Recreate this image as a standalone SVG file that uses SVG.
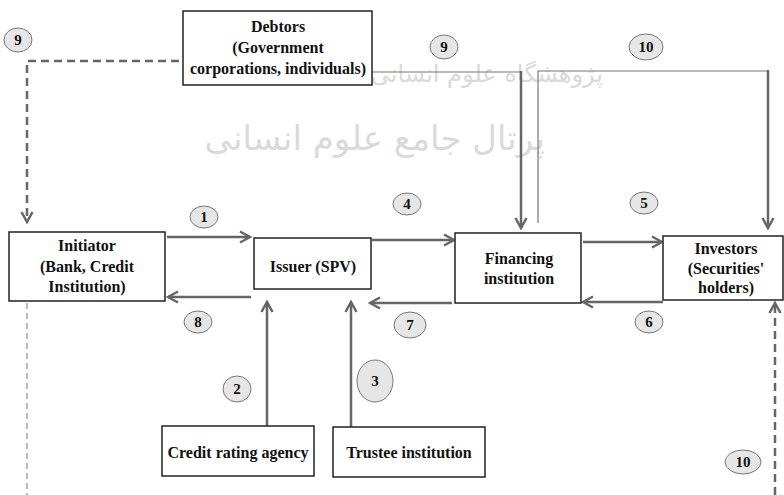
<svg xmlns="http://www.w3.org/2000/svg" width="784" height="495" viewBox="0 0 784 495">
<defs>
<style>
.box{fill:#fff;stroke:#222;stroke-width:1.5}
.t{font-family:"Liberation Serif","Times New Roman",serif;font-weight:bold;font-size:16px;fill:#111;text-anchor:middle}
.n{font-family:"Liberation Serif","Times New Roman",serif;font-weight:bold;font-size:15px;fill:#111;text-anchor:middle}
.c{fill:#e6e6e6;stroke:#777;stroke-width:1}
.a{fill:none;stroke:#666;stroke-width:2.5}
.thin{fill:none;stroke:#777;stroke-width:1.2}
.d{fill:none;stroke:#666;stroke-width:2.5;stroke-dasharray:8 5}
.d2{fill:none;stroke:#777;stroke-width:1;stroke-dasharray:6 4}
.wm{font-family:"DejaVu Sans",sans-serif;fill:#dadada}
</style>
<marker id="ah" markerUnits="userSpaceOnUse" markerWidth="14" markerHeight="14" viewBox="0 0 14 14" refX="12" refY="7" orient="auto">
<path d="M2,1.5 L12,7 L2,12.5" fill="none" stroke="#666" stroke-width="2.5"/>
</marker>
</defs>
<rect width="784" height="495" fill="#fff"/>
<g id="watermark">
<text class="wm" x="603" y="82" font-size="24" text-anchor="end">پژوهشگاه علوم انسانی</text>
<text class="wm" x="545" y="150" font-size="34" text-anchor="end">پرتال جامع علوم انسانی</text>
</g>
<g id="connectors">
<path class="d" d="M179,61 H27 V222" marker-end="url(#ah)"/>
<path class="d2" d="M27,303 V495"/>
<path class="d" d="M775,495 V303" marker-end="url(#ah)"/>
<path class="a" d="M167,237 H250" marker-end="url(#ah)"/>
<path class="a" d="M251,297 H168" marker-end="url(#ah)"/>
<path class="a" d="M372,240 H454" marker-end="url(#ah)"/>
<path class="a" d="M452,303 H370" marker-end="url(#ah)"/>
<path class="a" d="M583,242 H662" marker-end="url(#ah)"/>
<path class="a" d="M663,302 H583" marker-end="url(#ah)"/>
<path class="a" d="M267,426 V302" marker-end="url(#ah)"/>
<path class="a" d="M351,427 V302" marker-end="url(#ah)"/>
<path class="thin" d="M372,72 H521"/>
<path class="a" d="M521,71 V228" marker-end="url(#ah)"/>
<path class="thin" d="M538,223 V71 H768"/>
<path class="a" d="M768,70 V228" marker-end="url(#ah)"/>
</g>
<g id="debtors">
<rect class="box" x="183" y="11" width="189" height="74"/>
<text class="t" x="278" y="32">Debtors</text>
<text class="t" x="278" y="53">(Government</text>
<text class="t" x="278" y="74">corporations, individuals)</text>
</g>
<g id="initiator">
<rect class="box" x="9" y="232" width="156" height="69"/>
<text class="t" x="87" y="251">Initiator</text>
<text class="t" x="87" y="272">(Bank, Credit</text>
<text class="t" x="87" y="292">Institution)</text>
</g>
<g id="issuer">
<rect class="box" x="254" y="238" width="117" height="51"/>
<text class="t" x="313" y="272">Issuer (SPV)</text>
</g>
<g id="financing">
<rect class="box" x="455" y="233" width="126" height="70"/>
<text class="t" x="519" y="264">Financing</text>
<text class="t" x="519" y="284">institution</text>
</g>
<g id="investors">
<rect class="box" x="663" y="236" width="120" height="64"/>
<text class="t" x="726" y="254">Investors</text>
<text class="t" x="726" y="274">(Securities'</text>
<text class="t" x="726" y="293">holders)</text>
</g>
<g id="credit-rating">
<rect class="box" x="162" y="426" width="152" height="50"/>
<text class="t" x="238" y="458">Credit rating agency</text>
</g>
<g id="trustee">
<rect class="box" x="333" y="427" width="152" height="50"/>
<text class="t" x="409" y="458">Trustee institution</text>
</g>
<g id="steps">
<g id="s9a"><ellipse class="c" cx="18" cy="40" rx="14" ry="12"/><text class="n" x="18" y="45">9</text></g>
<g id="s9b"><ellipse class="c" cx="444" cy="47" rx="14" ry="12"/><text class="n" x="444" y="52">9</text></g>
<g id="s10a"><ellipse class="c" cx="646" cy="47" rx="17" ry="13"/><text class="n" x="646" y="52">10</text></g>
<g id="s1"><ellipse class="c" cx="204" cy="217" rx="14" ry="11"/><text class="n" x="204" y="222">1</text></g>
<g id="s8"><ellipse class="c" cx="198" cy="322" rx="14" ry="11"/><text class="n" x="198" y="327">8</text></g>
<g id="s4"><ellipse class="c" cx="407" cy="204" rx="14" ry="11"/><text class="n" x="407" y="209">4</text></g>
<g id="s5"><ellipse class="c" cx="644" cy="203" rx="14" ry="11"/><text class="n" x="644" y="208">5</text></g>
<g id="s6"><ellipse class="c" cx="649" cy="322" rx="14" ry="11"/><text class="n" x="649" y="327">6</text></g>
<g id="s7"><ellipse class="c" cx="410" cy="325" rx="16" ry="13"/><text class="n" x="410" y="330">7</text></g>
<g id="s2"><ellipse class="c" cx="237" cy="389" rx="14" ry="13"/><text class="n" x="237" y="394">2</text></g>
<g id="s3"><ellipse class="c" cx="375" cy="381" rx="18" ry="21"/><text class="n" x="375" y="386">3</text></g>
<g id="s10b"><ellipse class="c" cx="743" cy="462" rx="18" ry="12"/><text class="n" x="743" y="467">10</text></g>
</g>
</svg>
